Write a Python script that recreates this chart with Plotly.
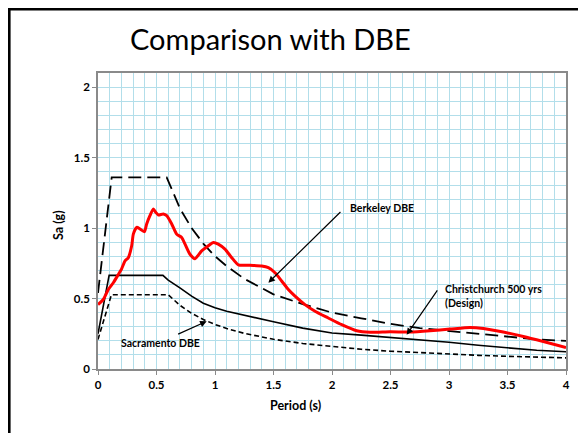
import plotly.graph_objects as go

# ---------------- data ----------------
T_berkeley = [0, 0.117, 0.587, 0.7, 0.8, 0.9, 1.0, 1.1, 1.25, 1.5, 1.75, 2.0, 2.25, 2.5, 2.75, 3.0, 3.25, 3.5, 3.75, 4.0]
Sa_berkeley = [0.54, 1.36, 1.36, 1.14, 1.0, 0.89, 0.80, 0.73, 0.64, 0.53, 0.46, 0.40, 0.36, 0.32, 0.29, 0.27, 0.25, 0.23, 0.21, 0.20]

T_chc_design = [0, 0.095, 0.555, 0.6, 0.7, 0.8, 0.9, 1.0, 1.1, 1.25, 1.4, 1.5, 1.75, 2.0, 2.25, 2.5, 2.75, 3.0, 3.25, 3.5, 3.75, 4.0]
Sa_chc_design = [0.25, 0.664, 0.664, 0.63, 0.575, 0.517, 0.467, 0.435, 0.41, 0.38, 0.35, 0.335, 0.29, 0.255, 0.24, 0.225, 0.208, 0.19, 0.168, 0.148, 0.133, 0.122]

T_sacramento = [0, 0.115, 0.6, 0.7, 0.8, 0.9, 1.0, 1.1, 1.25, 1.5, 1.75, 2.0, 2.25, 2.5, 2.75, 3.0, 3.25, 3.5, 3.75, 4.0]
Sa_sacramento = [0.21, 0.527, 0.527, 0.452, 0.395, 0.351, 0.316, 0.287, 0.253, 0.211, 0.181, 0.158, 0.140, 0.126, 0.115, 0.105, 0.097, 0.090, 0.084, 0.079]

T_recorded = [0, 0.045, 0.088, 0.131, 0.174, 0.2, 0.231, 0.259, 0.288, 0.302, 0.331, 0.359, 0.396, 0.416,
              0.444, 0.473, 0.493, 0.516, 0.558, 0.587, 0.63, 0.672, 0.715, 0.744, 0.786, 0.829, 0.886,
              0.943, 0.986, 1.028, 1.085, 1.143, 1.2, 1.285, 1.399, 1.456, 1.513, 1.57, 1.627, 1.684,
              1.769, 1.855, 1.968, 2.083, 2.211, 2.325, 2.496, 2.667, 2.838, 3.009, 3.179, 3.293,
              3.464, 3.635, 3.806, 4.0]
Sa_recorded = [0.457, 0.493, 0.564, 0.612, 0.671, 0.707, 0.767, 0.79, 0.874, 0.957, 1.005, 0.993, 0.974, 1.029,
               1.088, 1.136, 1.112, 1.093, 1.1, 1.088, 1.029, 0.957, 0.933, 0.886, 0.814, 0.783, 0.838,
               0.874, 0.898, 0.886, 0.85, 0.79, 0.738, 0.736, 0.731, 0.719, 0.683, 0.624, 0.564, 0.517,
               0.457, 0.41, 0.362, 0.314, 0.271, 0.26, 0.264, 0.262, 0.271, 0.283, 0.295, 0.288,
               0.262, 0.231, 0.195, 0.152]

x_ticks = [0, 0.5, 1, 1.5, 2, 2.5, 3, 3.5, 4]
x_tick_labels = ["0", "0.5", "1", "1.5", "2", "2.5", "3", "3.5", "4"]
y_ticks = [0, 0.5, 1, 1.5, 2]
y_tick_labels = ["0", "0.5", "1", "1.5", "2"]

title_text = "Comparison with DBE"
x_title = "Period (s)"
y_title = "Sa (g)"

# ---------------- figure ----------------
FONT = "Lato"
GRID = "#b2deea"
OFF = 8  # page body margin of the html page
W, H = 588 - 2 * OFF - 2, 447 - 2 * OFF - 6  # keep page free of scrollbars

# plot area in page pixels: x 98..566, y 73..369
PW, PH = 468, 296

def px_x(p):
    return (p - 98) / PW

def px_y(p):
    return (369 - p) / PH

fig = go.Figure()
fig.add_trace(go.Scatter(x=T_berkeley, y=Sa_berkeley, mode="lines",
                         line=dict(color="black", width=1.8, dash="13px,6px"), name="Berkeley DBE"))
fig.add_trace(go.Scatter(x=T_sacramento, y=Sa_sacramento, mode="lines",
                         line=dict(color="black", width=1.6, dash="5px,3px"), name="Sacramento DBE"))
fig.add_trace(go.Scatter(x=T_chc_design, y=Sa_chc_design, mode="lines",
                         line=dict(color="black", width=1.6), name="Christchurch 500 yrs (Design)"))
fig.add_trace(go.Scatter(x=T_recorded, y=Sa_recorded, mode="lines",
                         line=dict(color="#ff0000", width=3, shape="spline", smoothing=0.6), name="Recorded"))

ann_font = dict(family=FONT, size=10.5, color="black", weight="bold")
annotations = [
    # arrows (head at x,y; tail at ax,ay)
    dict(x=1.456, y=0.612, ax=2.085, ay=1.124, xref="x", yref="y", axref="x", ayref="y",
         text="", showarrow=True, arrowhead=2, arrowsize=1.1, arrowwidth=1.2, arrowcolor="black"),
    dict(x=2.638, y=0.243, ax=2.909, ay=0.569, xref="x", yref="y", axref="x", ayref="y",
         text="", showarrow=True, arrowhead=2, arrowsize=1.1, arrowwidth=1.2, arrowcolor="black"),
    dict(x=0.929, y=0.338, ax=0.672, ay=0.243, xref="x", yref="y", axref="x", ayref="y",
         text="", showarrow=True, arrowhead=2, arrowsize=1.1, arrowwidth=1.2, arrowcolor="black"),
    # labels
    dict(x=2.137, y=1.143, xref="x", yref="y", text="Berkeley DBE", showarrow=False,
         xanchor="left", yanchor="middle", font=ann_font),
    dict(x=2.951, y=0.521, xref="x", yref="y", text="Christchurch 500 yrs<br>(Design)", showarrow=False,
         xanchor="left", yanchor="middle", align="left", font=ann_font),
    dict(x=0.182, y=0.184, xref="x", yref="y", text="Sacramento DBE", showarrow=False,
         xanchor="left", yanchor="middle", font=ann_font),
    # title
    dict(x=px_x(270), y=px_y(38), xref="paper", yref="paper", text=title_text,
         showarrow=False, xanchor="center", yanchor="middle",
         font=dict(family=FONT, size=29, color="black")),
    # axis titles
    dict(x=px_x(295), y=px_y(405), xref="paper", yref="paper", text=x_title,
         showarrow=False, xanchor="center", yanchor="middle",
         font=dict(family=FONT, size=12.5, color="black", weight="bold")),
    dict(x=px_x(58), y=px_y(225), xref="paper", yref="paper", text=y_title, textangle=-90,
         showarrow=False, xanchor="center", yanchor="middle",
         font=dict(family=FONT, size=12.5, color="black", weight="bold")),
]

shapes = [
    # slide frame: left and top edges
    dict(type="line", xref="paper", yref="paper",
         x0=px_x(9.3), x1=px_x(9.3), y0=px_y(9.3 - 1.3), y1=px_y(600),
         line=dict(color="black", width=2.6), layer="below"),
    dict(type="line", xref="paper", yref="paper",
         x0=px_x(9.3 - 1.3), x1=px_x(700), y0=px_y(9.3), y1=px_y(9.3),
         line=dict(color="black", width=2.6), layer="below"),
]

fig.update_layout(
    width=W, height=H,
    margin=dict(l=98 - OFF, r=(OFF + W) - 566, t=73 - OFF, b=(OFF + H) - 369, autoexpand=False),
    paper_bgcolor="white", plot_bgcolor="white",
    showlegend=False,
    annotations=annotations,
    shapes=shapes,
    font=dict(family=FONT, color="black"),
)

axis_common = dict(
    showgrid=True, gridcolor=GRID, gridwidth=1,
    showline=True, linecolor="#8a8a8a", linewidth=1.5, mirror=True,
    ticks="outside", ticklen=4, tickcolor="#8a8a8a", tickwidth=1,
    zeroline=False,
    tickfont=dict(family=FONT, size=11.5, color="black", weight="bold"),
)

fig.update_xaxes(range=[0, 4], tickvals=x_ticks, ticktext=x_tick_labels,
                 minor=dict(dtick=0.1, showgrid=True, gridcolor=GRID, gridwidth=1),
                 **axis_common)
fig.update_yaxes(range=[0, 2.1], tickvals=y_ticks, ticktext=y_tick_labels,
                 minor=dict(dtick=0.1, showgrid=True, gridcolor=GRID, gridwidth=1),
                 **axis_common)

fig.write_html("out.html")
